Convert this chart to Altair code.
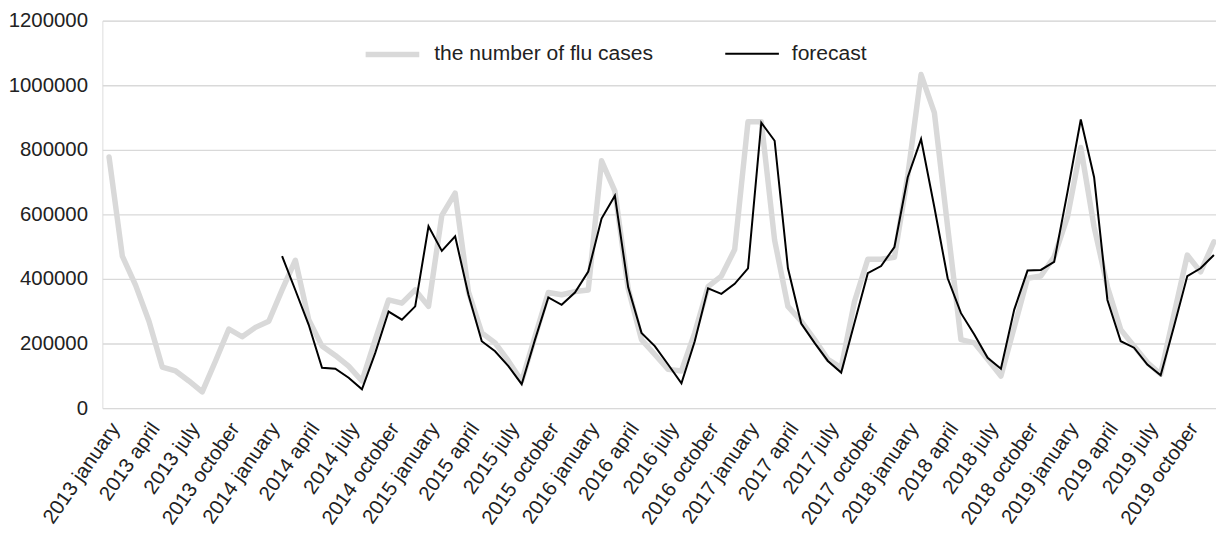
import json
import altair as alt
import pandas as pd

years = list(range(2013, 2020))
month_names = ["january", "february", "march", "april", "may", "june", "july",
               "august", "september", "october", "november", "december"]
period_labels = [f"{y} {m}" for y in years for m in month_names]

# the number of flu cases, 2013 january .. 2019 december
flu_cases = [
    778000, 471000, 380000, 269000, 127000, 115000, 84000, 50000, 146000, 245000,
    221000, 250000, 269000, 366000, 458000, 274000, 192000, 163000, 130000, 84000,
    212000, 335000, 325000, 366000, 315000, 597000, 666000, 360000, 233000, 202000,
    146000, 84000, 222000, 358000, 351000, 361000, 366000, 766000, 672000, 370000,
    212000, 166000, 120000, 115000, 233000, 376000, 409000, 491000, 887000, 887000,
    520000, 315000, 269000, 212000, 151000, 125000, 330000, 461000, 461000, 467000,
    720000, 1033000, 915000, 560000, 212000, 202000, 151000, 99000, 250000, 402000,
    409000, 469000, 592000, 807000, 561000, 376000, 243000, 192000, 141000, 105000,
    290000, 474000, 422000, 515000,
]

# forecast, 2014 february .. 2019 december
forecast_start = 13
forecast = [
    471000, 365000, 258000, 125000, 122000, 94000, 58000, 171000,
    299000, 274000, 315000, 563000, 487000, 532000, 351000, 207000, 176000, 130000,
    74000, 212000, 343000, 320000, 358000, 423000, 587000, 658000, 374000, 233000,
    192000, 135000, 77000, 207000, 371000, 354000, 385000, 433000, 884000, 828000,
    433000, 262000, 202000, 146000, 110000, 264000, 418000, 440000, 499000, 715000,
    833000, 622000, 402000, 294000, 228000, 156000, 122000, 305000, 426000, 428000,
    453000, 669000, 894000, 715000, 335000, 207000, 187000, 135000, 102000, 253000,
    409000, 433000, 474000,
]

y_ticks = [0, 200000, 400000, 600000, 800000, 1000000, 1200000]

SERIES_CASES = "the number of flu cases"
SERIES_FC = "forecast"

df_cases = pd.DataFrame({
    "idx": list(range(len(flu_cases))),
    "period": period_labels[:len(flu_cases)],
    "value": flu_cases,
    "series": SERIES_CASES,
})
df_fc = pd.DataFrame({
    "idx": list(range(forecast_start, forecast_start + len(forecast))),
    "period": period_labels[forecast_start:forecast_start + len(forecast)],
    "value": forecast,
    "series": SERIES_FC,
})

FONT = "Liberation Sans"
TEXT = "#222222"
GRID = "#d9d9d9"
FS = 20.5

legend = alt.Legend(
    orient="none", legendX=262, legendY=4, direction="horizontal", title=None,
    symbolType="stroke", symbolSize=2916, labelFontSize=21.2, labelFont=FONT,
    labelColor=TEXT, labelOffset=12, columnPadding=68, padding=0, labelLimit=0,
)

x_enc = alt.X(
    "idx:Q",
    scale=alt.Scale(domain=[-0.5, 83.157], nice=False, zero=False),
    axis=alt.Axis(
        values=list(range(0, 84, 3)),
        labelExpr=json.dumps(period_labels) + "[datum.value]",
        labelAngle=-55, labelAlign="right", labelBaseline="top",
        labelPadding=11, labelOffset=-2, labelFlush=False, labelOverlap=False,
        grid=False, domain=False, ticks=False, labelFontSize=FS, labelFont=FONT,
        labelColor=TEXT, title=None,
    ),
)
y_enc = alt.Y(
    "value:Q",
    scale=alt.Scale(domain=[0, 1200000], nice=False),
    axis=alt.Axis(
        values=y_ticks, format="d", grid=True, gridColor=GRID, gridWidth=1.3,
        domain=False, ticks=False, labelFontSize=FS, labelFont=FONT,
        labelColor=TEXT, labelPadding=15, title=None,
    ),
)
color_enc = alt.Color(
    "series:N",
    scale=alt.Scale(domain=[SERIES_CASES, SERIES_FC], range=["#d9d9d9", "#000000"]),
    legend=legend,
)
width_enc = alt.StrokeWidth(
    "series:N",
    scale=alt.Scale(domain=[SERIES_CASES, SERIES_FC], range=[5.5, 2]),
    legend=legend,
)

cases_line = alt.Chart(df_cases).mark_line(strokeCap="round", strokeJoin="round").encode(
    x=x_enc, y=y_enc, color=color_enc, strokeWidth=width_enc,
)
fc_line = alt.Chart(df_fc).mark_line(strokeJoin="miter").encode(
    x=x_enc, y=y_enc, color=color_enc, strokeWidth=width_enc,
)

chart = alt.layer(cases_line, fc_line).properties(
    width=1121, height=390,
    padding={"left": 95, "top": 11, "right": 0, "bottom": 126},
    autosize=alt.AutoSizeParams(type="none"),
).configure_view(stroke=None).configure(font=FONT)

chart.save("out.html", embed_options={"renderer": "svg", "actions": False})
